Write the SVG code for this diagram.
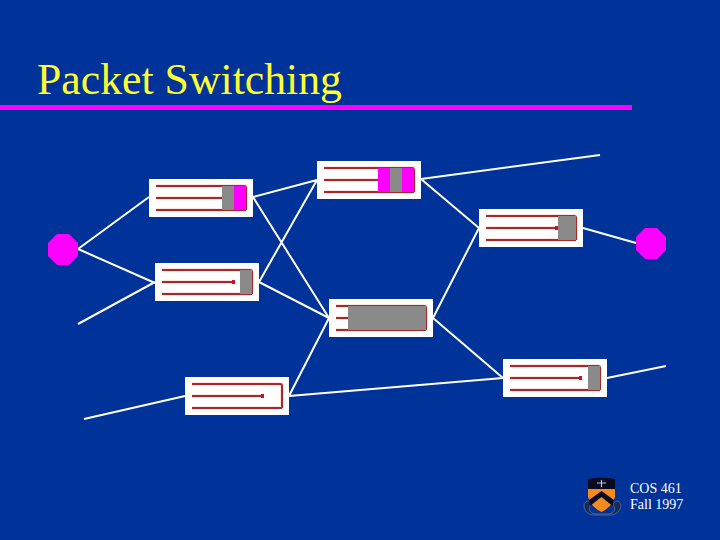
<svg xmlns="http://www.w3.org/2000/svg" width="720" height="540" viewBox="0 0 720 540">
<style>
.bg{fill:#003399}
.box{fill:#fff}
.q{fill:none;stroke:#a82828;stroke-width:2}
.h{fill:none;stroke:#ffe6e6;stroke-width:4}
.g{fill:#8a8a8a}
.m{fill:#ff00ff}
.a{fill:#d01020}
.c{stroke:#fff;stroke-width:2;fill:none}
.t{font-family:"Liberation Serif","Times New Roman",serif}
</style>
<defs>
<g id="q">
<path class="h" d="M7 7H95Q97 7 97 9V31M7 19H79M7 31H97"/>
<path class="q" d="M7 7H95Q97 7 97 9V31M7 19H79M7 31H97"/>
</g>
</defs>
<rect class="bg" width="720" height="540"/>
<text class="t" x="37" y="94" font-size="44" fill="#ffff33" textLength="305" lengthAdjust="spacingAndGlyphs">Packet Switching</text>
<rect class="m" x="0" y="105" width="632" height="5"/>
<g id="connectors" class="c">
<path d="M149 197L78 249L155 283M78 324L155 282"/>
<path d="M253 197L317 180M253 197L329 318M259 282L317 180M259 282L329 318"/>
<path d="M84 419L185 396M289 396L329 318M289 396L503 378"/>
<path d="M421 179L600 155M421 179L479 228M433 318L479 228M433 318L503 378"/>
<path d="M583 228L636 243M607 378L666 366"/>
</g>
<g id="source"><polygon class="m" points="57,234 69,234 78,243 78,256 69,265 57,265 48,256 48,243"/></g>
<g id="destination"><polygon class="m" points="645,228 657,228 666,237 666,250 657,259 645,259 636,250 636,237"/></g>
<g id="router-a" transform="translate(149 179)">
<rect class="box" width="104" height="38"/><use href="#q"/>
<rect class="g" x="73" y="7" width="12" height="24"/><rect class="m" x="85" y="7" width="12" height="24"/>
</g>
<g id="router-b" transform="translate(155 263)">
<rect class="box" width="104" height="38"/><use href="#q"/>
<rect class="a" x="77" y="17" width="3" height="4"/>
<rect class="g" x="85" y="7" width="12" height="24"/>
</g>
<g id="router-c" transform="translate(317 161)">
<rect class="box" width="104" height="38"/><use href="#q"/>
<rect class="m" x="61" y="7" width="12" height="24"/><rect class="g" x="73" y="7" width="12" height="24"/><rect class="m" x="85" y="7" width="12" height="24"/>
</g>
<g id="router-d" transform="translate(329 299)">
<rect class="box" width="104" height="38"/><use href="#q"/>
<rect class="g" x="19" y="7" width="78" height="24"/>
</g>
<g id="router-e" transform="translate(479 209)">
<rect class="box" width="104" height="38"/><use href="#q"/>
<rect class="a" x="76" y="17" width="3" height="4"/>
<rect class="g" x="79" y="7" width="18" height="24"/>
</g>
<g id="router-f" transform="translate(503 359)">
<rect class="box" width="104" height="38"/><use href="#q"/>
<rect class="a" x="76" y="17" width="3" height="4"/>
<rect class="g" x="85" y="7" width="12" height="24"/>
</g>
<g id="router-g" transform="translate(185 377)">
<rect class="box" width="104" height="38"/><use href="#q"/>
<rect class="a" x="76" y="17" width="3" height="4"/>
</g>
<g id="logo">
<path d="M584 505C586 500 589 500 591 504C588 509 589 513 595 514H609C615 513 616 509 613 504C616 500 619 500 621 505C621 510 617 515 610 515H594C588 515 584 511 584 505Z" fill="#1a2a55" stroke="#6f86b5" stroke-width="0.6"/>
<path d="M588 479Q601 476 615 479V489H588Z" fill="#0a0a20"/>
<path d="M588 489H615V497Q612 507 601.500 512Q591 507 588 497Z" fill="#f58a1f"/>
<path d="M590 506L601.500 497L612.500 506L614 500L601.500 491L589 500Z" fill="#0a0a20"/>
<path d="M597 483H606M601.500 480V487" stroke="#b8c4dc" stroke-width="1.200" fill="none"/>
</g>
<g fill="#fff" class="t" font-size="14">
<text x="630" y="493">COS 461</text>
<text x="630" y="509">Fall 1997</text>
</g>
</svg>
